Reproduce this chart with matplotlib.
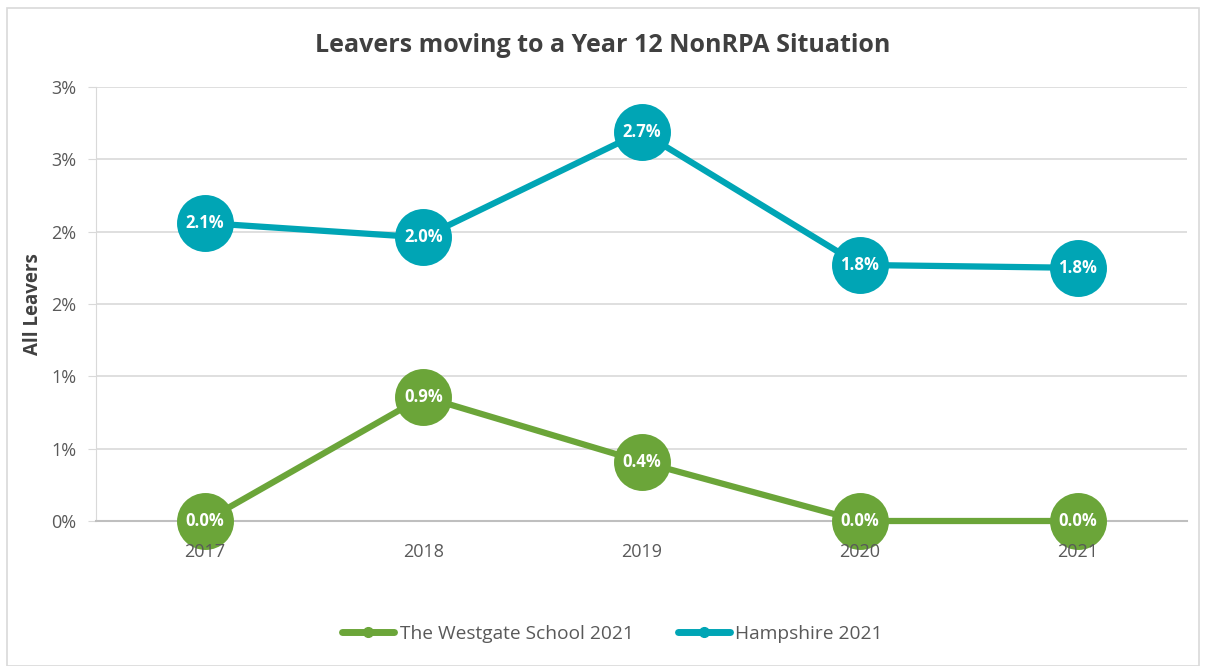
import matplotlib
matplotlib.use("Agg")
import matplotlib.pyplot as plt
from matplotlib.ticker import FuncFormatter, MultipleLocator
from matplotlib.patches import Rectangle
from matplotlib.lines import Line2D
import math

years = ["2017", "2018", "2019", "2020", "2021"]
westgate = [0.0, 0.86, 0.41, 0.0, 0.0]
hampshire = [2.06, 1.96, 2.69, 1.77, 1.75]
series_names = ["The Westgate School 2021", "Hampshire 2021"]
title = "Leavers moving to a Year 12 NonRPA Situation"
ylabel = "All Leavers"

green = "#6BA539"
teal = "#00A5B5"

plt.rcParams['font.family'] = ['Open Sans', 'DejaVu Sans']

fig = plt.figure(figsize=(12.06, 6.66), dpi=100)
fig.patches.append(Rectangle((7/1206, 0), 1192/1206, 658/666, transform=fig.transFigure,
                             fill=False, edgecolor="#D9D9D9", linewidth=1.2))
ax = fig.add_axes([96/1206, (666-521)/666, (1187-96)/1206, (521-87)/666])

x = list(range(len(years)))
for vals, col, name in [(westgate, green, series_names[0]), (hampshire, teal, series_names[1])]:
    ax.plot(x, vals, color=col, linewidth=4.5, solid_capstyle='round', zorder=3, label=name,
            marker='o', markersize=41, markeredgewidth=0, clip_on=False)
    for xi, v in zip(x, vals):
        ax.text(xi, v, f"{v:.1f}%", ha='center', va='center', color='white',
                fontsize=12, fontweight='bold', zorder=5)

ax.set_xlim(-0.5, len(years) - 0.5)
ax.set_ylim(0, 3.0)
ax.yaxis.set_major_locator(MultipleLocator(0.5))
ax.yaxis.set_major_formatter(FuncFormatter(lambda v, p: f"{int(math.floor(v + 0.5 + 1e-9))}%"))
ax.set_xticks(x)
ax.set_xticklabels(years)
ax.grid(axis='y', color='#D9D9D9', linewidth=1.2, zorder=0)
for s in ['top', 'right']:
    ax.spines[s].set_visible(False)
ax.spines['left'].set_color('#D9D9D9')
ax.spines['bottom'].set_color('#BFBFBF')
ax.spines['bottom'].set_linewidth(1.5)
ax.tick_params(axis='y', length=6, color='#D9D9D9', labelsize=13, labelcolor='#595959', pad=8)
ax.tick_params(axis='x', length=0, labelsize=13, labelcolor='#595959', pad=16)
ax.xaxis.set_zorder(6)
ax.set_ylabel(ylabel, fontsize=13.5, fontweight='bold', color='#404040', labelpad=6)

fig.text(0.5, (666-46)/666, title, ha='center', va='center', fontsize=18,
         fontweight='bold', color='#404040')

handles = [Line2D([0], [0], color=green, linewidth=5, marker='o', markersize=7, solid_capstyle='round'),
           Line2D([0], [0], color=teal, linewidth=5, marker='o', markersize=7, solid_capstyle='round')]
fig.legend(handles, series_names, loc='center', bbox_to_anchor=(0.508, (666-634)/666), ncol=2,
           frameon=False, fontsize=13.8, handlelength=2.7, handletextpad=0.3, columnspacing=2.3,
           labelcolor='#595959')

fig.savefig("out.png", dpi=100)
